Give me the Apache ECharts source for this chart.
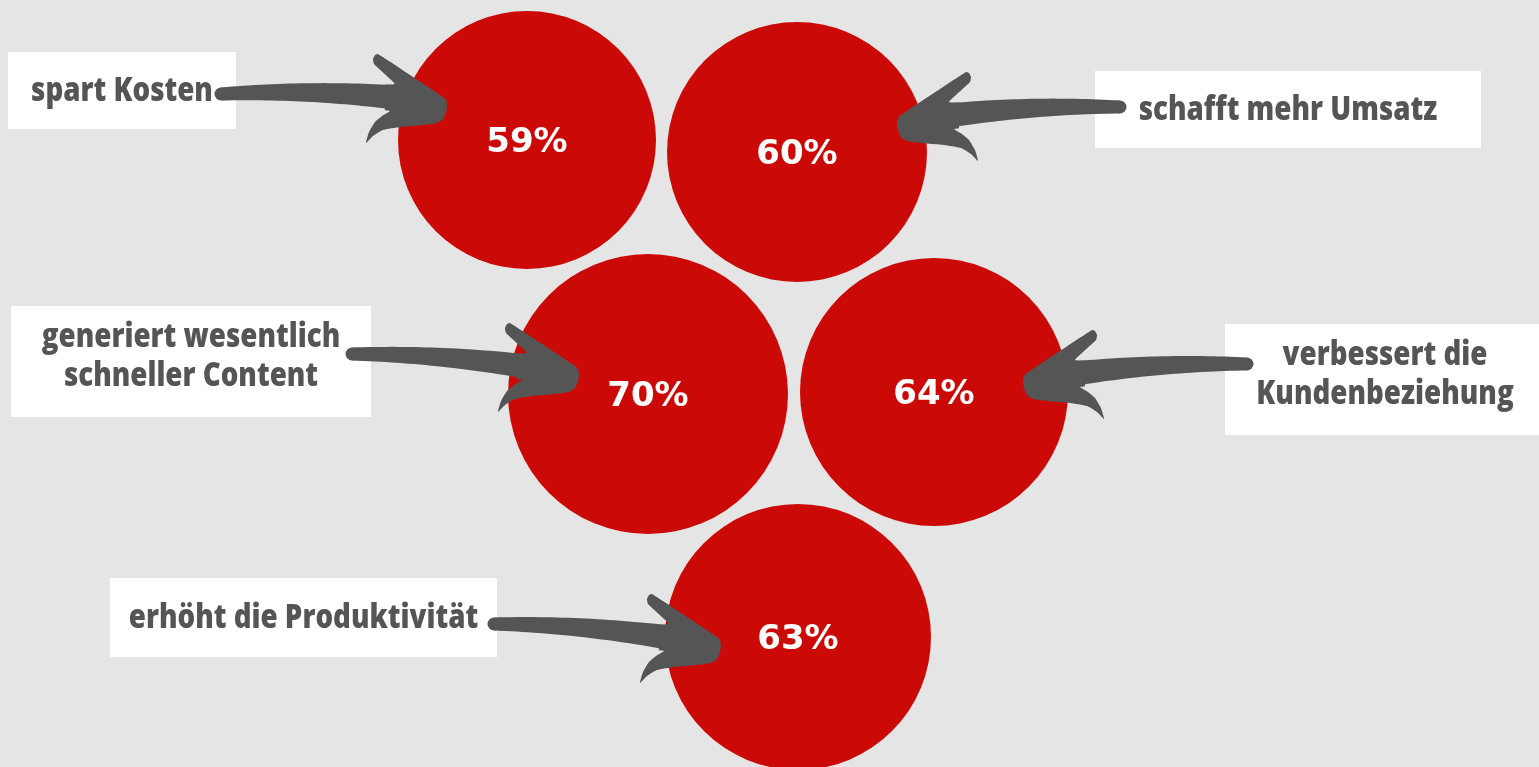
<!DOCTYPE html>
<html>
<head>
<meta charset="utf-8">
<script src="https://cdn.jsdelivr.net/npm/echarts@6/dist/echarts.min.js"></script>
<style>
  html, body { margin: 0; padding: 0; background: #e5e5e5; }
  #chart { width: 1539px; height: 767px; }
</style>
</head>
<body>
<div id="chart"></div>
<script>
// Anteile je Vorteil (Kreise)
const shares = [59, 60, 70, 64, 63];
const benefits = [
    'spart Kosten',
    'schafft mehr Umsatz',
    'generiert wesentlich\nschneller Content',
    'verbessert die\nKundenbeziehung',
    'erhöht die Produktivität'
];

// Layout im Pixelraster 1539 x 767
const circleX = [527, 797, 648, 934, 798];
const circleY = [140, 152, 394, 392, 637];
const boxRects = [[8, 52, 236, 129], [1095, 71, 1481, 148], [11, 306, 371, 417], [1225, 324, 1545, 435], [110, 578, 497, 657]];
const arrowPaths = [[221, 94, 447, 104], [1120, 107, 897, 122], [352, 354, 579, 373], [1247, 364, 1023, 380], [494, 624, 721, 644]];

const RED = '#cb0a07';
const GREY = '#555555';

// Pfeilspitze, Spitze im Ursprung, zeigt nach rechts
const headShape = [[0, 2], [-1, -4], [-4, -7], [-69, -50], [-72, -49], [-74, -45], [-73, -40], [-52, -20], [-62, -19], [-62, 6],
    [-57, 7], [-65, 12], [-72, 18], [-78, 28], [-81, 39], [-74, 32], [-64, 26], [-47, 23], [-25, 21], [-10, 19], [-4, 15], [-1, 8]];

const chart = echarts.init(document.getElementById('chart'));

const renderBox = (params, api) => {
    const p0 = api.coord([api.value(0), api.value(1)]);
    const p1 = api.coord([api.value(2), api.value(3)]);
    const text = benefits[params.dataIndex];
    const multi = text.indexOf('\n') >= 0;
    return {
        type: 'group',
        children: [
            { type: 'rect', shape: { x: p0[0], y: p0[1], width: p1[0] - p0[0], height: p1[1] - p0[1] }, style: { fill: '#ffffff' } },
            {
                type: 'text',
                x: (p0[0] + p1[0]) / 2,
                y: (p0[1] + p1[1]) / 2 + (multi ? -4 : 1),
                scaleX: 0.84,
                style: {
                    text: text,
                    fill: GREY,
                    font: '800 33px "Open Sans", sans-serif',
                    align: 'center',
                    verticalAlign: 'middle',
                    lineHeight: 39
                }
            }
        ]
    };
};

const renderArrow = (params, api) => {
    const tail = api.coord([api.value(0), api.value(1)]);
    const tip = api.coord([api.value(2), api.value(3)]);
    const dir = tip[0] > tail[0] ? 1 : -1;
    const base = [tip[0] - dir * 56, tip[1] - 7];
    const ctrl = [(tail[0] + base[0]) / 2, (tail[1] + base[1]) / 2 - 6];
    const top = [], bottom = [];
    for (let i = 0; i <= 30; i++) {
        const t = i / 30;
        const x = (1 - t) * (1 - t) * tail[0] + 2 * (1 - t) * t * ctrl[0] + t * t * base[0];
        const y = (1 - t) * (1 - t) * tail[1] + 2 * (1 - t) * t * ctrl[1] + t * t * base[1];
        const dx = 2 * (1 - t) * (ctrl[0] - tail[0]) + 2 * t * (base[0] - ctrl[0]);
        const dy = 2 * (1 - t) * (ctrl[1] - tail[1]) + 2 * t * (base[1] - ctrl[1]);
        const len = Math.hypot(dx, dy);
        const w = (13 + 11 * t) / 2;
        top.push([x - dy / len * w, y + dx / len * w]);
        bottom.push([x + dy / len * w, y - dx / len * w]);
    }
    const head = headShape.map(p => [tip[0] + dir * p[0], tip[1] + p[1]]);
    return {
        type: 'group',
        children: [
            { type: 'polygon', shape: { points: top.concat(bottom.reverse()) }, style: { fill: GREY } },
            { type: 'circle', shape: { cx: tail[0], cy: tail[1], r: 6.5 }, style: { fill: GREY } },
            { type: 'polygon', shape: { points: head, smooth: 0.15 }, style: { fill: GREY } }
        ]
    };
};

const option = {
    backgroundColor: '#e5e5e5',
    animation: false,
    grid: { left: 0, right: 0, top: 0, bottom: 0 },
    xAxis: { type: 'value', min: 0, max: 1539, show: false },
    yAxis: { type: 'value', min: 0, max: 767, inverse: true, show: false },
    series: [
        {
            type: 'scatter',
            z: 1,
            symbol: 'circle',
            symbolSize: v => 2 * (v[2] + 70),
            itemStyle: { color: RED, opacity: 1 },
            label: {
                show: true,
                position: 'inside',
                offset: [0, 3],
                formatter: p => p.value[2] + '%',
                color: '#ffffff',
                fontFamily: '"DejaVu Sans", sans-serif',
                fontWeight: 'bold',
                fontSize: 34
            },
            emphasis: { disabled: true },
            data: shares.map((v, i) => [circleX[i], circleY[i], v])
        },
        {
            type: 'custom',
            z: 2,
            clip: false,
            renderItem: renderBox,
            data: boxRects
        },
        {
            type: 'custom',
            z: 3,
            clip: false,
            renderItem: renderArrow,
            data: arrowPaths
        }
    ]
};
chart.setOption(option);
</script>
</body>
</html>
